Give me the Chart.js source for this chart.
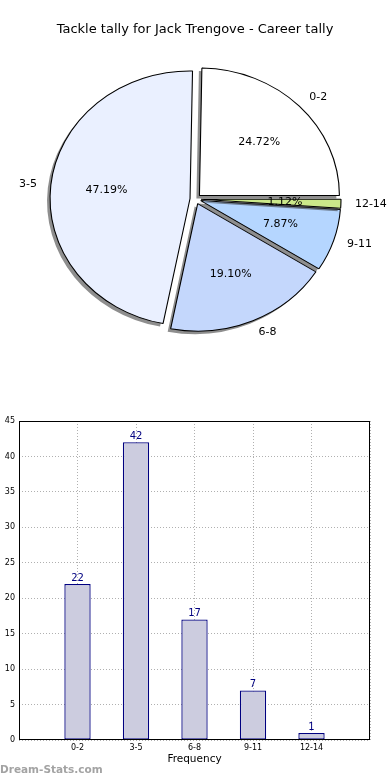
<!DOCTYPE html>
<html>
<head>
<meta charset="utf-8">
<script src="https://cdn.jsdelivr.net/npm/chart.js@4.4.1/dist/chart.umd.min.js"></script>
<style>
html, body { margin: 0; padding: 0; background: #fff; }
body { width: 390px; height: 780px; position: relative; overflow: hidden; font-family: "DejaVu Sans", sans-serif; }
#pieWrap { position: absolute; left: 0; top: 0; width: 390px; height: 400px; }
#barWrap { position: absolute; left: 0; top: 400px; width: 390px; height: 380px; }
#mark { position: absolute; left: 0; top: 763px; font: bold 10.5px "DejaVu Sans", sans-serif; color: #a3a3a3; }
</style>
</head>
<body>
<div id="pieWrap"><canvas id="pieChart" width="390" height="400"></canvas></div>
<div id="barWrap"><canvas id="barChart" width="390" height="380"></canvas></div>
<div id="mark">Dream-Stats.com</div>
<script>
const chartTitle = "Tackle tally for Jack Trengove - Career tally";
const categories = ["0-2", "3-5", "6-8", "9-11", "12-14"];
const tackleCounts = [22, 42, 17, 7, 1];
const sliceColors = ["#ffffff", "#eaf0ff", "#c4d7fc", "#b5d6ff", "#cbe88a"];
const yTicks = [0, 5, 10, 15, 20, 25, 30, 35, 40, 45];

const FONT = '"DejaVu Sans", sans-serif';
// matplotlib pie without equal aspect is a bit wider than tall
const SX = 140 / 127.5;
const EXPLODE = 5;
const SHADOW = "rgba(50,50,50,0.55)";

function stretch(ctx, arc) {
    ctx.translate(arc.x, arc.y);
    ctx.scale(SX, 1);
    ctx.translate(-arc.x, -arc.y);
}

const explodedPie = {
    id: "explodedPie",
    beforeDatasetDraw(chart, args) {
        const ctx = chart.ctx;
        const arcs = args.meta.data;
        // draw in the original order: shadow then wedge, slice by slice
        for (let i = arcs.length - 1; i >= 0; i--) {
            const arc = arcs[i];
            const mid = (arc.startAngle + arc.endAngle) / 2;
            const dx = Math.cos(mid) * EXPLODE, dy = Math.sin(mid) * EXPLODE;
            const opts = arc.options;

            ctx.save();
            ctx.translate(-3, 3);
            stretch(ctx, arc);
            ctx.translate(dx, dy);
            arc.options = Object.assign({}, opts, { backgroundColor: SHADOW, borderWidth: 0 });
            arc.draw(ctx);
            arc.options = opts;
            ctx.restore();

            ctx.save();
            stretch(ctx, arc);
            ctx.translate(dx, dy);
            arc.draw(ctx);
            ctx.restore();
        }
        return false;
    },
    afterDatasetsDraw(chart) {
        const ctx = chart.ctx;
        const arcs = chart.getDatasetMeta(0).data;
        const values = chart.data.datasets[0].data;
        const labels = chart.data.labels;
        const total = values.reduce((a, b) => a + b, 0);
        ctx.save();
        ctx.fillStyle = "#000";
        ctx.textBaseline = "middle";
        ctx.font = "11px " + FONT;
        arcs.forEach((arc, i) => {
            const mid = (arc.startAngle + arc.endAngle) / 2;
            const c = Math.cos(mid), s = Math.sin(mid);
            const ox = arc.x + SX * EXPLODE * c, oy = arc.y + EXPLODE * s;
            const r = arc.outerRadius;
            ctx.textAlign = c > 0 ? "left" : "right";
            ctx.fillText(labels[i], ox + SX * 1.1 * r * c, oy + 1.1 * r * s);
            ctx.textAlign = "center";
            ctx.fillText((values[i] / total * 100).toFixed(2) + "%", ox + SX * 0.6 * r * c, oy + 0.6 * r * s);
        });
        ctx.font = "13px " + FONT;
        ctx.textAlign = "center";
        ctx.fillText(chartTitle, 195, 30);
        ctx.restore();
    }
};

new Chart(document.getElementById("pieChart"), {
    type: "pie",
    data: {
        labels: categories.slice().reverse(),
        datasets: [{
            data: tackleCounts.slice().reverse(),
            backgroundColor: sliceColors.slice().reverse(),
            borderColor: "#000",
            borderWidth: 1
        }]
    },
    options: {
        responsive: false,
        animation: false,
        events: [],
        rotation: 90,
        radius: 127.5,
        layout: { padding: { top: 71, bottom: 73, left: 67, right: 66 } },
        plugins: { legend: { display: false }, tooltip: { enabled: false } }
    },
    plugins: [explodedPie]
});

const barLabels = {
    id: "barLabels",
    afterDatasetsDraw(chart) {
        const ctx = chart.ctx;
        const area = chart.chartArea;
        ctx.save();
        ctx.font = "10px " + FONT;
        ctx.fillStyle = "#000080";
        ctx.textAlign = "center";
        ctx.textBaseline = "bottom";
        chart.getDatasetMeta(0).data.forEach((bar, i) => {
            ctx.fillText(String(tackleCounts[i]), bar.x, bar.y - 1);
        });
        ctx.strokeStyle = "#000";
        ctx.lineWidth = 1;
        ctx.strokeRect(area.left + 0.5, area.top + 0.5, area.width - 1, area.height - 1);
        ctx.restore();
    }
};

const gridDots = { color: "#b0b0b0", drawTicks: false, offset: false };

new Chart(document.getElementById("barChart"), {
    type: "bar",
    data: {
        datasets: [{
            data: tackleCounts.map((v, i) => ({ x: i, y: v })),
            backgroundColor: "#ccccdf",
            borderColor: "#000080",
            borderWidth: 1.3,
            borderSkipped: false,
            barPercentage: 0.45,
            categoryPercentage: 1
        }]
    },
    options: {
        responsive: false,
        animation: false,
        events: [],
        layout: { padding: { top: 21, right: 20, bottom: 12, left: 0 } },
        plugins: { legend: { display: false }, tooltip: { enabled: false } },
        scales: {
            x: {
                type: "linear",
                min: -1,
                max: categories.length,
                offset: false,
                grid: gridDots,
                border: { display: false, dash: [1, 2] },
                ticks: {
                    stepSize: 1,
                    autoSkip: false,
                    maxRotation: 0,
                    padding: 3,
                    color: "#000",
                    font: { family: FONT, size: 8 },
                    callback: v => categories[v] ?? ""
                },
                title: { display: true, text: "Frequency", color: "#000", font: { family: FONT, size: 10.5 }, padding: { top: 0, bottom: 2 } },
                afterFit: s => { s.height = 28; }
            },
            y: {
                min: 0,
                max: 45,
                grid: gridDots,
                border: { display: false, dash: [1, 2] },
                afterBuildTicks: s => { s.ticks = yTicks.map(v => ({ value: v })); },
                ticks: { padding: 4, color: "#000", font: { family: FONT, size: 8 } },
                afterFit: s => { s.width = 19; }
            }
        }
    },
    plugins: [barLabels]
});
</script>
</body>
</html>
